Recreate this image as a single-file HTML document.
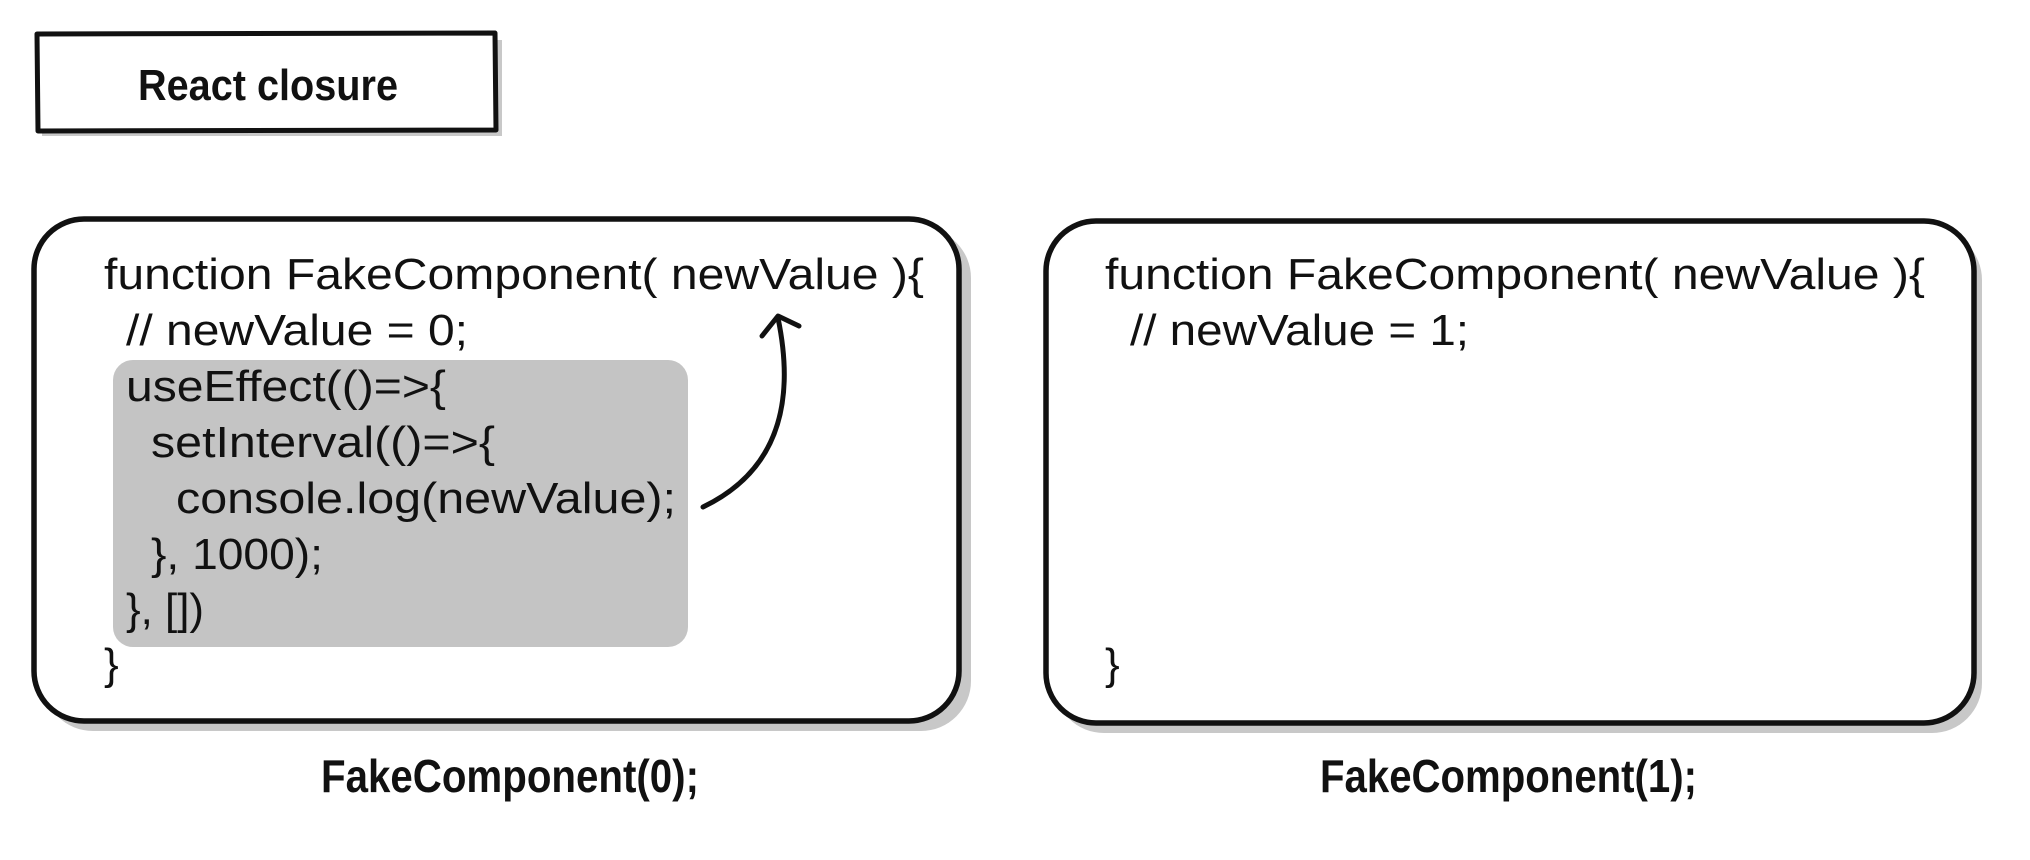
<!DOCTYPE html>
<html><head><meta charset="utf-8"><style>
html,body{margin:0;padding:0;background:#fff;}
svg{display:block}
.c{font-family:"Liberation Sans",sans-serif;font-size:44px;fill:#111;}
.b{font-family:"Liberation Sans Narrow","Liberation Sans",sans-serif;font-weight:bold;fill:#111;}
</style></head><body>
<svg width="2030" height="860" viewBox="0 0 2030 860" xmlns="http://www.w3.org/2000/svg">
<!-- title -->
<rect x="42" y="40" width="460" height="96" fill="#c8c8c8"/>
<path d="M37,34 L495,33 L496,130 L38,131 Z" fill="#fff" stroke="#111" stroke-width="5" stroke-linejoin="round"/>
<text class="b" x="138" y="100" font-size="44" textLength="260" lengthAdjust="spacingAndGlyphs">React closure</text>

<!-- box 1 -->
<rect x="43" y="228" width="928" height="503" rx="50" fill="#c8c8c8"/>
<rect x="34" y="219" width="925" height="502" rx="50" fill="#fff" stroke="#111" stroke-width="5.5"/>
<rect x="113" y="360" width="575" height="287" rx="20" fill="#c4c4c4"/>
<text class="c" x="104" y="289" textLength="820" lengthAdjust="spacingAndGlyphs">function FakeComponent( newValue ){</text>
<text class="c" x="126" y="345" textLength="342" lengthAdjust="spacingAndGlyphs">// newValue = 0;</text>
<text class="c" x="126" y="401" textLength="320" lengthAdjust="spacingAndGlyphs">useEffect(()=&gt;{</text>
<text class="c" x="151" y="457" textLength="344" lengthAdjust="spacingAndGlyphs">setInterval(()=&gt;{</text>
<text class="c" x="176" y="513" textLength="500" lengthAdjust="spacingAndGlyphs">console.log(newValue);</text>
<text class="c" x="151" y="569" textLength="172" lengthAdjust="spacingAndGlyphs">}, 1000);</text>
<text class="c" x="126" y="624" textLength="78" lengthAdjust="spacingAndGlyphs">}, [])</text>
<text class="c" x="104" y="679">}</text>
<path d="M703,507 C780,470 795,400 778,318" fill="none" stroke="#111" stroke-width="5" stroke-linecap="round"/>
<path d="M762,336 L778,316 L799,326" fill="none" stroke="#111" stroke-width="5" stroke-linecap="round" stroke-linejoin="round"/>

<!-- box 2 -->
<rect x="1054" y="230" width="928" height="503" rx="50" fill="#c8c8c8"/>
<rect x="1046" y="221" width="928" height="502" rx="50" fill="#fff" stroke="#111" stroke-width="5.5"/>
<text class="c" x="1105" y="289" textLength="820" lengthAdjust="spacingAndGlyphs">function FakeComponent( newValue ){</text>
<text class="c" x="1130" y="345" textLength="339" lengthAdjust="spacingAndGlyphs">// newValue = 1;</text>
<text class="c" x="1105" y="679">}</text>

<!-- captions -->
<text class="b" x="321" y="792" font-size="46" textLength="378" lengthAdjust="spacingAndGlyphs">FakeComponent(0);</text>
<text class="b" x="1320" y="792" font-size="46" textLength="377" lengthAdjust="spacingAndGlyphs">FakeComponent(1);</text>
</svg>
</body></html>
